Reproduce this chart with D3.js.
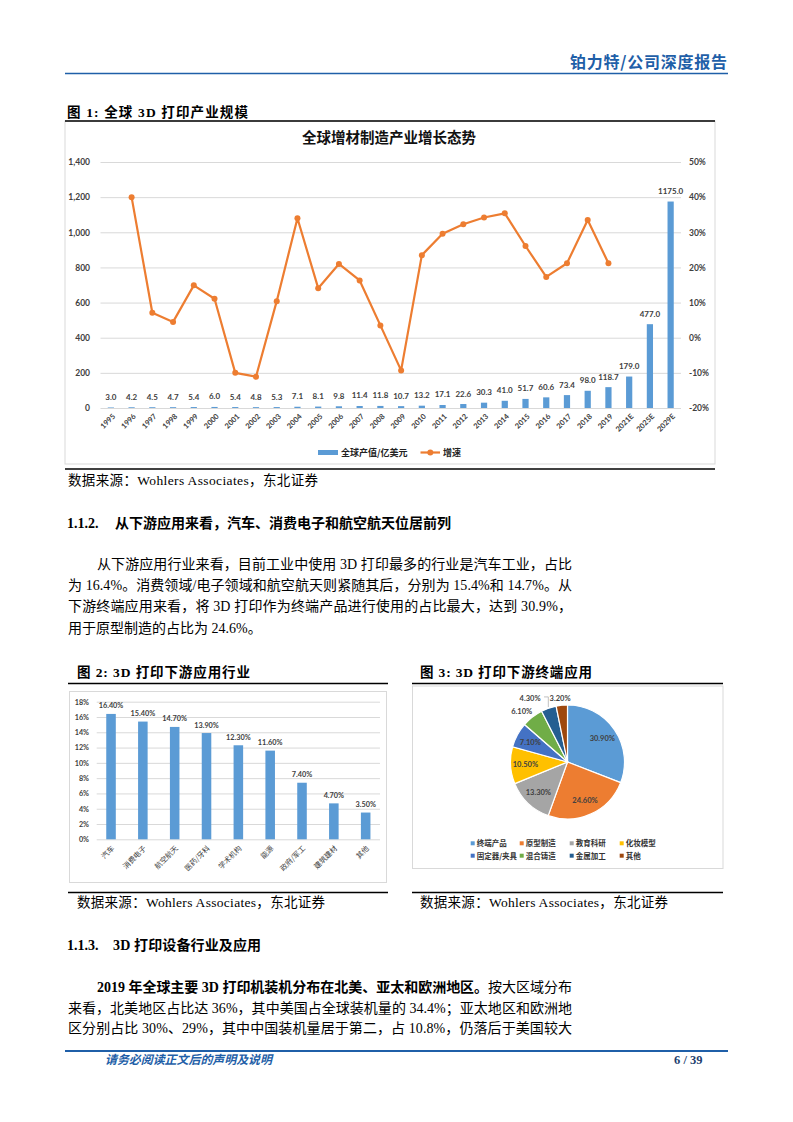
<!DOCTYPE html>
<html>
<head>
<meta charset="utf-8">
<script src="https://cdn.jsdelivr.net/npm/d3@7.9.0/dist/d3.min.js"></script>
<style>
  body { margin: 0; background: #fff; }
  svg { display: block; }
</style>
</head>
<body>
<div id="page"></div>
<script>
// ---- chart 1: global additive manufacturing output / growth
const years = ["1995","1996","1997","1998","1999","2000","2001","2002","2003","2004","2005","2006","2007",
  "2008","2009","2010","2011","2012","2013","2014","2015","2016","2017","2018","2019","2021E","2025E","2029E"];
const output = [3.0,4.2,4.5,4.7,5.4,6.0,5.4,4.8,5.3,7.1,8.1,9.8,11.4,11.8,10.7,13.2,17.1,22.6,30.3,41.0,
  51.7,60.6,73.4,98.0,118.7,179.0,477.0,1175.0];
const growth = [null,40.0,7.1,4.5,14.9,11.1,-10.0,-11.1,10.4,34.0,14.1,21.0,16.3,3.5,-9.3,23.5,29.6,32.3,
  34.2,35.4,26.1,17.3,21.2,33.5,21.2,null,null,null];
const leftTicks = [0,200,400,600,800,1000,1200,1400];
const rightTicks = [-20,-10,0,10,20,30,40,50];

// ---- chart 2: downstream industries
const industries = ["汽车","消费电子","航空航天","医药/牙科","学术机构","能源","政府/军工","建筑建材","其他"];
const industryShare = [16.4,15.4,14.7,13.9,12.3,11.6,7.4,4.7,3.5];
const shareTicks = [0,2,4,6,8,10,12,14,16,18];

// ---- chart 3: end uses
const uses = ["终端产品","原型制造","教育科研","化妆模型","固定器/夹具","混合铸造","金属加工","其他"];
const useShare = [30.9,24.6,13.3,10.5,7.1,6.1,4.3,3.2];
const useColors = ["#5B9BD5","#ED7D31","#A5A5A5","#FFC000","#4472C4","#70AD47","#255E91","#9E480E"];

const W = 793, H = 1122;
const SERIF = "'Liberation Serif','Noto Sans CJK SC',serif";
const CJK = "'Noto Sans CJK SC',sans-serif";
const SANS = "Lato,'Noto Sans CJK SC',sans-serif";
const BLUE = "#1F5FA8";
const INK = "#404040";

const svg = d3.select("#page").append("svg")
  .attr("width", W).attr("height", H)
  .attr("viewBox", `0 0 ${W} ${H}`);
svg.append("rect").attr("width", W).attr("height", H).attr("fill", "#fff");

function addText(g, x, y, str, o = {}) {
  const t = g.append("text")
    .attr("x", x).attr("y", y)
    .attr("font-family", o.family || SERIF)
    .attr("font-size", o.size || 14)
    .attr("font-weight", o.weight || "normal")
    .attr("fill", o.fill || "#000")
    .attr("text-anchor", o.anchor || "start")
    .text(str);
  if (o.italic) t.attr("font-style", "italic");
  if (o.width) t.attr("textLength", o.width).attr("lengthAdjust", "spacing");
  return t;
}

function hline(g, x1, x2, y, color, w) {
  g.append("line").attr("x1", x1).attr("x2", x2).attr("y1", y).attr("y2", y)
    .attr("stroke", color).attr("stroke-width", w);
}

// ---- page header / footer
const page = svg.append("g");
addText(page, 727, 68, "铂力特/公司深度报告", { family: CJK, size: 16, weight: "bold", fill: BLUE, anchor: "end", width: 157 });
hline(page, 65, 728, 73.5, BLUE, 1.5);
hline(page, 65, 728, 1051, BLUE, 2);
addText(page, 105, 1064, "请务必阅读正文后的声明及说明", { family: CJK, size: 12, weight: "bold", fill: BLUE, italic: true, width: 167 });
addText(page, 674, 1064, "6 / 39", { size: 12.5, weight: "bold", fill: "#1F3F6F" });

// ---- figure titles / sources
addText(page, 67, 117, "图 1:  全球 3D 打印产业规模", { size: 13.5, weight: "bold", width: 181 });
addText(page, 68, 485, "数据来源：Wohlers Associates，东北证券", { size: 13.5, width: 250 });
addText(page, 77, 677, "图 2:  3D 打印下游应用行业", { size: 13.5, weight: "bold", width: 173 });
addText(page, 420, 677, "图 3:  3D 打印下游终端应用", { size: 13.5, weight: "bold", width: 172 });
addText(page, 77, 907, "数据来源：Wohlers Associates，东北证券", { size: 13.5, width: 248 });
addText(page, 420, 907, "数据来源：Wohlers Associates，东北证券", { size: 13.5, width: 248 });

// ---- section text
addText(page, 67, 528, "1.1.2.", { size: 14, weight: "bold" });
addText(page, 115, 528, "从下游应用来看，汽车、消费电子和航空航天位居前列", { family: CJK, size: 14, weight: "bold", width: 336 });

const para1 = [
  "从下游应用行业来看，目前工业中使用 3D 打印最多的行业是汽车工业，占比",
  "为 16.4%。消费领域/电子领域和航空航天则紧随其后，分别为 15.4%和 14.7%。从",
  "下游终端应用来看，将 3D 打印作为终端产品进行使用的占比最大，达到 30.9%，",
  "用于原型制造的占比为 24.6%。"
];
para1.forEach((line, i) => {
  const x = i === 0 ? 97 : 68;
  addText(page, x, 569 + i * 21.2, line, { size: 14, width: i < para1.length - 1 ? 572 - x : null });
});

addText(page, 67, 950, "1.1.3.", { size: 14, weight: "bold" });
addText(page, 113, 950, "3D 打印设备行业及应用", { size: 14, weight: "bold", width: 148 });

const p2first = page.append("text").attr("x", 97).attr("y", 992)
  .attr("font-family", SERIF).attr("font-size", 14)
  .attr("textLength", 475).attr("lengthAdjust", "spacing");
p2first.append("tspan").attr("font-weight", "bold").text("2019 年全球主要 3D 打印机装机分布在北美、亚太和欧洲地区。");
p2first.append("tspan").text("按大区域分布");
const para2 = [
  "来看，北美地区占比达 36%，其中美国占全球装机量的 34.4%；亚太地区和欧洲地",
  "区分别占比 30%、29%，其中中国装机量居于第二，占 10.8%，仍落后于美国较大"
];
para2.forEach((line, i) => {
  addText(page, 68, 1012.5 + i * 20.5, line, { size: 14, width: 504 });
});

// ================= chart 1 =================
const c1 = svg.append("g");
c1.append("rect").attr("x", 65).attr("y", 121).attr("width", 650).attr("height", 343)
  .attr("fill", "#fff").attr("stroke", "#d9d9d9");
hline(c1, 65, 715, 121, "#000", 1.5);
hline(c1, 65, 715, 469, "#000", 1.5);

const x1 = d3.scaleBand().domain(years).range([100.5, 681]).paddingInner(0.7).paddingOuter(0.35);
const yL = d3.scaleLinear().domain([0, 1400]).range([408, 162]);
const yR = d3.scaleLinear().domain([-20, 50]).range([408, 162]);
const cx1 = d => x1(d) + x1.bandwidth() / 2;

c1.append("g").attr("transform", "translate(100.5,0)")
  .call(d3.axisLeft(yL).tickValues(leftTicks).tickSize(-580.5).tickFormat(""))
  .call(g => g.select(".domain").remove())
  .selectAll("line").attr("stroke", "#d9d9d9").attr("stroke-width", 1);

c1.append("g").attr("transform", "translate(92,0)")
  .call(d3.axisLeft(yL).tickValues(leftTicks).tickSize(0).tickPadding(2).tickFormat(d3.format(",")))
  .call(g => g.select(".domain").remove())
  .selectAll("text").attr("font-family", SANS).attr("font-size", 8.5).attr("font-weight", "bold").attr("fill", INK);

c1.append("g").attr("transform", "translate(687,0)")
  .call(d3.axisRight(yR).tickValues(rightTicks).tickSize(0).tickPadding(2).tickFormat(d => d + "%"))
  .call(g => g.select(".domain").remove())
  .selectAll("text").attr("font-family", SANS).attr("font-size", 8.5).attr("font-weight", "bold").attr("fill", INK);

const rows1 = years.map((y, i) => ({ year: y, value: output[i], growth: growth[i] }));

c1.append("g").selectAll("rect").data(rows1).join("rect")
  .attr("x", d => x1(d.year)).attr("width", x1.bandwidth())
  .attr("y", d => yL(d.value)).attr("height", d => yL(0) - yL(d.value))
  .attr("fill", "#5B9BD5");

c1.append("g").selectAll("text").data(rows1).join("text")
  .attr("x", d => cx1(d.year)).attr("y", d => yL(d.value) - 7.5)
  .attr("text-anchor", "middle")
  .attr("font-family", SANS).attr("font-size", 8).attr("font-weight", "bold").attr("fill", INK)
  .text(d => d.value.toFixed(1));

const growthLine = d3.line().defined(d => d.growth !== null)
  .x(d => cx1(d.year)).y(d => yR(d.growth));
c1.append("path").datum(rows1).attr("d", growthLine)
  .attr("fill", "none").attr("stroke", "#ED7D31").attr("stroke-width", 2.2).attr("stroke-linejoin", "round");
c1.append("g").selectAll("circle").data(rows1.filter(d => d.growth !== null)).join("circle")
  .attr("cx", d => cx1(d.year)).attr("cy", d => yR(d.growth)).attr("r", 3)
  .attr("fill", "#ED7D31");

c1.append("g").selectAll("text").data(years).join("text")
  .attr("transform", d => `translate(${cx1(d) + 3},415) rotate(-45)`)
  .attr("text-anchor", "end").attr("dy", "0.35em")
  .attr("font-family", SANS).attr("font-size", 7.5).attr("font-weight", "bold").attr("fill", INK)
  .text(d => d);

addText(c1, 389, 143, "全球增材制造产业增长态势", { family: CJK, size: 14.5, weight: "bold", fill: "#111", anchor: "middle" });

c1.append("rect").attr("x", 318).attr("y", 450).attr("width", 20).attr("height", 5).attr("fill", "#5B9BD5");
addText(c1, 341, 455.5, "全球产值/亿美元", { family: CJK, size: 9, weight: "bold", fill: "#222" });
hline(c1, 420.5, 440, 452.5, "#ED7D31", 2.2);
c1.append("circle").attr("cx", 430.3).attr("cy", 452.5).attr("r", 3).attr("fill", "#ED7D31");
addText(c1, 443, 455.5, "增速", { family: CJK, size: 9, weight: "bold", fill: "#222" });

// ================= chart 2 =================
const c2 = svg.append("g");
c2.append("rect").attr("x", 69.5).attr("y", 691.5).attr("width", 317).attr("height", 191)
  .attr("fill", "#fff").attr("stroke", "#d9d9d9");
hline(c2, 68, 388, 683.5, "#000", 1.3);
hline(c2, 68, 388, 892.5, "#000", 1.3);

const x2 = d3.scaleBand().domain(industries).range([96.7, 380]).paddingInner(0.7).paddingOuter(0.3);
const y2 = d3.scaleLinear().domain([0, 18]).range([839.3, 701.7]);
const cx2 = d => x2(d) + x2.bandwidth() / 2;

c2.append("g").attr("transform", "translate(96.7,0)")
  .call(d3.axisLeft(y2).tickValues(shareTicks).tickSize(-283.3).tickFormat(""))
  .call(g => g.select(".domain").remove())
  .selectAll("line").attr("stroke", "#d9d9d9");

c2.append("g").attr("transform", "translate(91,0)")
  .call(d3.axisLeft(y2).tickValues(shareTicks).tickSize(0).tickPadding(2).tickFormat(d => d + "%"))
  .call(g => g.select(".domain").remove())
  .selectAll("text").attr("font-family", SANS).attr("font-size", 7.2).attr("font-weight", "bold").attr("fill", INK);

const rows2 = industries.map((n, i) => ({ name: n, value: industryShare[i] }));
c2.append("g").selectAll("rect").data(rows2).join("rect")
  .attr("x", d => x2(d.name)).attr("width", x2.bandwidth())
  .attr("y", d => y2(d.value)).attr("height", d => y2(0) - y2(d.value))
  .attr("fill", "#5B9BD5");
c2.append("g").selectAll("text").data(rows2).join("text")
  .attr("x", d => cx2(d.name)).attr("y", d => y2(d.value) - 5.5)
  .attr("text-anchor", "middle")
  .attr("font-family", SANS).attr("font-size", 7.3).attr("font-weight", "bold").attr("fill", INK)
  .text(d => d.value.toFixed(2) + "%");
c2.append("g").selectAll("text").data(industries).join("text")
  .attr("transform", d => `translate(${cx2(d) + 2},847) rotate(-45)`)
  .attr("text-anchor", "end").attr("dy", "0.35em")
  .attr("font-family", CJK).attr("font-size", 7.3).attr("fill", INK)
  .text(d => d);

// ================= chart 3 =================
const c3 = svg.append("g");
c3.append("rect").attr("x", 412.5).attr("y", 686).attr("width", 310.5).attr("height", 182.5)
  .attr("fill", "#fff").attr("stroke", "#d9d9d9");
hline(c3, 412, 723, 683.5, "#000", 1.3);
hline(c3, 412, 723, 892.5, "#000", 1.3);

const pieCx = 567.5, pieCy = 762, pieR = 57;
const pieData = d3.pie().sort(null).value(d => d.value)(uses.map((n, i) => ({ name: n, value: useShare[i], color: useColors[i] })));
const arc = d3.arc().innerRadius(0).outerRadius(pieR);
const pg = c3.append("g").attr("transform", `translate(${pieCx},${pieCy})`);
pg.selectAll("path").data(pieData).join("path")
  .attr("d", arc).attr("fill", d => d.data.color)
  .attr("stroke", "#fff").attr("stroke-width", 1.2);

// label placement: inside for big slices, outside for small ones
const labels = pieData.map(d => {
  const a = (d.startAngle + d.endAngle) / 2;
  const inside = d.data.value >= 7;
  const rr = inside ? pieR * 0.74 : pieR * 1.13;
  let x = Math.sin(a) * rr, y = -Math.cos(a) * rr;
  if (!inside) x += Math.sin(a) * 10;
  return { d, a, inside, x, y, text: d.data.value.toFixed(2) + "%", lead: false };
});
const halfW = 13;
for (let i = 0; i < labels.length - 1; i++) {
  const L = labels[i], N = labels[i + 1];
  if (L.inside || N.inside) continue;
  if (Math.abs(L.x - N.x) < halfW * 2 + 2 && Math.abs(L.y - N.y) < 9) {
    L.y = N.y;
    L.x = N.x - halfW * 2 - 4;
    L.lead = true;
  }
}
labels.filter(l => l.lead).forEach(l => {
  const ex = Math.sin(l.a) * pieR * 1.02, ey = -Math.cos(l.a) * pieR * 1.02;
  pg.append("polyline")
    .attr("points", `${l.x + halfW + 1},${l.y - 1} ${ex},${l.y - 1} ${ex},${ey}`)
    .attr("fill", "none").attr("stroke", "#a6a6a6").attr("stroke-width", 0.7);
});
pg.selectAll("text").data(labels).join("text")
  .attr("x", d => d.x).attr("y", d => d.y).attr("dy", "0.35em")
  .attr("text-anchor", "middle")
  .attr("font-family", SANS).attr("font-size", 7.5).attr("font-weight", "bold").attr("fill", INK)
  .text(d => d.text);

const legendX = [472.7, 521.7, 571.7, 621.7], legendY = [843.3, 855.7];
const lg = c3.append("g");
uses.forEach((n, i) => {
  const lx = legendX[i % 4], ly = legendY[Math.floor(i / 4)];
  lg.append("rect").attr("x", lx - 2).attr("y", ly - 2).attr("width", 4).attr("height", 4).attr("fill", useColors[i]);
  addText(lg, lx + 4, ly + 2.8, n, { family: CJK, size: 7.5, weight: "bold", fill: "#333" });
});
</script>
</body>
</html>
